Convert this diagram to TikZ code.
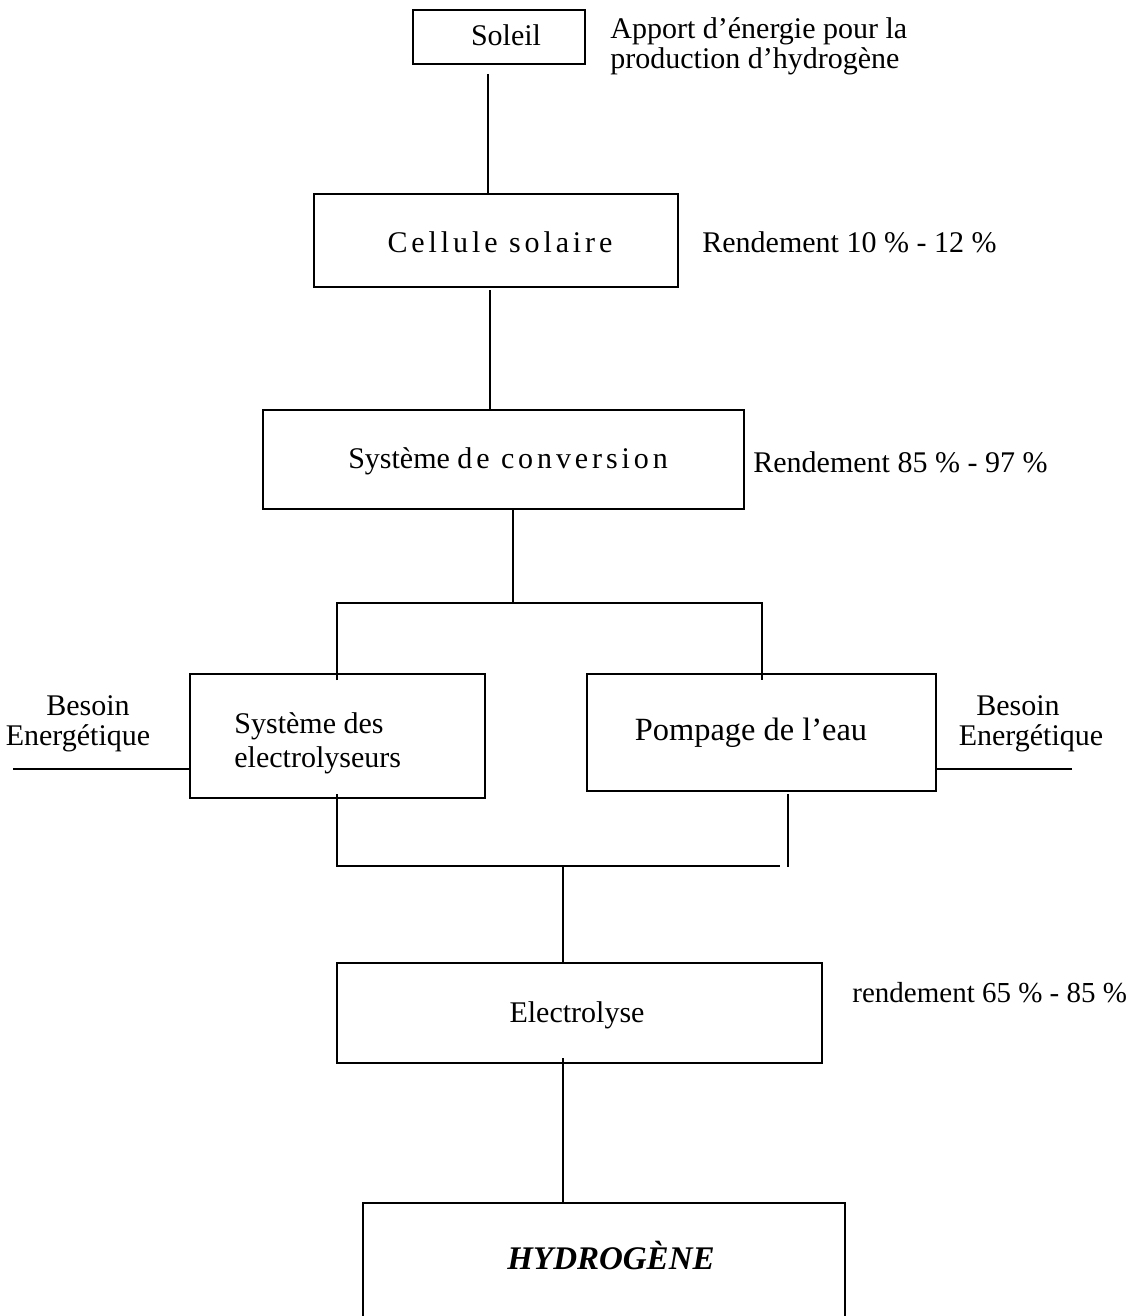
\documentclass[tikz,border=0pt]{standalone}
\usepackage{fontspec}
\setmainfont{Liberation Serif}
\newfontfamily\spacedfont[LetterSpace=13]{Liberation Serif}
\begin{document}
\begin{tikzpicture}[x=0.5pt,y=-0.5pt,
  box/.style={draw,line width=1pt,rectangle,inner sep=0pt},
  txt/.style={inner sep=0pt,font=\fontsize{15pt}{15pt}\selectfont},
  wire/.style={line width=1pt}]
\useasboundingbox (0,0) rectangle (1134,1316);
% boxes
\node[box,minimum width=86pt,minimum height=27pt] (soleil) at (499,37) {};
\node[box,minimum width=182pt,minimum height=46.5pt] (cellule) at (496,240.5) {};
\node[box,minimum width=240.5pt,minimum height=49.5pt] (conv) at (503.5,459.5) {};
\node[box,minimum width=147.5pt,minimum height=62pt] (elyseurs) at (337.5,736) {};
\node[box,minimum width=174.5pt,minimum height=58.5pt] (pompage) at (761.5,732.5) {};
\node[box,minimum width=242.5pt,minimum height=50pt] (elyse) at (579.5,1013) {};
\node[box,minimum width=241pt,minimum height=70pt] (hydro) at (604,1273) {};
% texts
\node[txt,anchor=base] (tsoleil) at (506,46) {Soleil};
\node[txt,anchor=base west] (apport1) at (610,39) {Apport d’énergie pour la};
\node[txt,anchor=base west] (apport2) at (610,69) {production d’hydrogène};
\node[txt,anchor=base,font=\spacedfont\fontsize{15pt}{15pt}\selectfont] (tcellule) at (500,252) {Cellule solaire};
\node[txt,anchor=base west] (rend1) at (702,253) {Rendement 10 \% - 12 \%};
\node[txt,anchor=base] (tconv) at (508,468) {Système {\spacedfont de conversion}};
\node[txt,anchor=base west] (rend2) at (753,472) {Rendement 85 \% - 97 \%};
\node[txt,anchor=base west] (tely1) at (234,733) {Système des};
\node[txt,anchor=base west] (tely2) at (234,767) {electrolyseurs};
\node[txt,anchor=base,font=\fontsize{16.2pt}{16pt}\selectfont] (tpomp) at (751,740) {Pompage de l’eau};
\node[txt,anchor=base] (besL1) at (88,715) {Besoin};
\node[txt,anchor=base] (besL2) at (78,745) {Energétique};
\node[txt,anchor=base] (besR1) at (1018,715) {Besoin};
\node[txt,anchor=base] (besR2) at (1031,745) {Energétique};
\node[txt,anchor=base] (telyse) at (577,1022) {Electrolyse};
\node[txt,anchor=base west,font=\fontsize{14.5pt}{15pt}\selectfont] (rend3) at (852,1002) {rendement 65 \% - 85 \%};
\node[txt,anchor=base,font=\fontsize{16.5pt}{16pt}\selectfont\bfseries\itshape] (thydro) at (611,1269) {HYDROGÈNE};
% connector coordinates
\coordinate (a1) at (488,74);
\coordinate (a2) at (490,290);
\coordinate (a3) at (513,508);
\coordinate (j1) at (513,603);
\coordinate (bl) at (337,680);
\coordinate (br) at (762,680);
\coordinate (bl2) at (337,794);
\coordinate (br2) at (788,794);
\coordinate (br3) at (788,867);
\coordinate (hb) at (780,866);
\coordinate (j2) at (563,866);
\coordinate (a5) at (563,1058);
\coordinate (eL) at (13,769);
\coordinate (eR) at (1072,769);
% connectors
\draw[wire] (a1) -- (a1 |- cellule.north);
\draw[wire] (a2) -- (a2 |- conv.north);
\draw[wire] (a3) -- (j1);
\draw[wire] (bl) -- (bl |- j1) -- (br |- j1) -- (br);
\draw[wire] (eL) -- (eL -| elyseurs.west);
\draw[wire] (eR) -- (eR -| pompage.east);
\draw[wire] (bl2) -- (bl2 |- hb) -- (hb);
\draw[wire] (br2) -- (br3);
\draw[wire] (j2) -- (j2 |- elyse.north);
\draw[wire] (a5) -- (a5 |- hydro.north);
\end{tikzpicture}
\end{document}
